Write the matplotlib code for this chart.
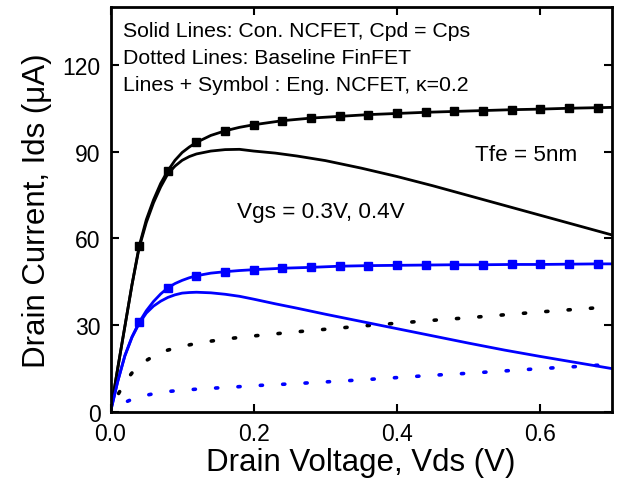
import numpy as np
import matplotlib.pyplot as plt

plt.rcParams["font.family"] = ["Liberation Sans", "DejaVu Sans"]

# Engineered NCFET (kappa = 0.2), line + square symbols
vds_eng = [0.0, 0.01, 0.02, 0.03, 0.04, 0.05, 0.06, 0.07, 0.08, 0.09, 0.10, 0.11,
           0.12, 0.14, 0.16, 0.18, 0.20, 0.24, 0.28, 0.32, 0.36, 0.40, 0.44, 0.48,
           0.52, 0.56, 0.60, 0.64, 0.68, 0.70]
ids_eng_04 = [0.0, 15.0, 29.5, 44.0, 57.3, 66.5, 73.3, 79.0, 83.4, 87.0, 89.7, 91.6,
              93.2, 95.6, 97.2, 98.4, 99.3, 100.7, 101.6, 102.2, 102.8, 103.2, 103.6, 103.9,
              104.2, 104.5, 104.7, 105.0, 105.2, 105.3]
ids_eng_03 = [0.0, 10.5, 19.5, 26.0, 31.0, 35.0, 38.2, 40.8, 42.9, 44.4, 45.5, 46.4,
              47.1, 48.0, 48.5, 48.9, 49.2, 49.7, 50.0, 50.4, 50.6, 50.7, 50.8, 50.9,
              50.9, 51.0, 51.0, 51.1, 51.2, 51.2]
# squares every 40 mV
marks = [i for i, v in enumerate(vds_eng) if i > 0 and round(v * 100) % 4 == 0]

# Conventional NCFET, Cpd = Cps (solid)
vds_con = [0.0, 0.01, 0.02, 0.03, 0.04, 0.05, 0.06, 0.07, 0.08, 0.09, 0.10, 0.11,
           0.12, 0.14, 0.16, 0.18, 0.20, 0.23, 0.26, 0.30, 0.35, 0.40, 0.45, 0.50,
           0.55, 0.60, 0.65, 0.70]
ids_con_04 = [0.0, 15.0, 29.5, 44.0, 56.8, 65.5, 72.3, 77.8, 82.3, 85.0, 87.0, 88.3,
              89.2, 90.2, 90.7, 90.8, 90.2, 89.5, 88.5, 86.9, 84.3, 81.4, 78.2, 74.8,
              71.4, 68.0, 64.6, 61.2]
ids_con_03 = [0.0, 10.5, 19.3, 25.8, 30.6, 34.2, 36.6, 38.3, 39.6, 40.5, 41.1, 41.3,
              41.4, 41.2, 40.7, 40.0, 39.0, 37.4, 35.9, 33.8, 31.3, 28.8, 26.3, 23.8,
              21.4, 19.2, 17.1, 15.0]

# Baseline FinFET (dotted)
vds_base = [0.0, 0.01, 0.02, 0.03, 0.04, 0.05, 0.06, 0.07, 0.08, 0.10, 0.12, 0.14,
            0.17, 0.20, 0.25, 0.30, 0.35, 0.40, 0.45, 0.50, 0.55, 0.60, 0.65, 0.70]
ids_base_04 = [0.0, 5.8, 10.3, 13.5, 15.8, 17.8, 19.3, 20.5, 21.4, 22.7, 23.7, 24.5,
               25.5, 26.3, 27.5, 28.6, 29.7, 30.7, 31.7, 32.6, 33.6, 34.6, 35.5, 36.4]
ids_base_03 = [0.0, 2.0, 3.3, 4.4, 5.2, 5.8, 6.3, 6.8, 7.1, 7.5, 7.9, 8.2,
               8.6, 9.1, 9.7, 10.4, 11.1, 11.9, 12.7, 13.4, 14.2, 15.0, 15.7, 16.5]

fig = plt.figure(figsize=(6.19, 4.85), dpi=100)
ax = fig.add_axes([110.5 / 619, 1 - 413 / 485, 501.5 / 619, 405 / 485])

lw = 2.0
dot = (0.6, (0.6, 5.6))
ax.plot(vds_base, ids_base_04, color="black", lw=2.6, linestyle=dot, dash_capstyle="round")
ax.plot(vds_base, ids_base_03, color="blue", lw=2.6, linestyle=dot, dash_capstyle="round")
ax.plot(vds_con, ids_con_04, color="black", lw=lw)
ax.plot(vds_con, ids_con_03, color="blue", lw=lw)
ax.plot(vds_eng, ids_eng_04, color="black", lw=lw, marker="s", ms=6.3, markevery=marks)
ax.plot(vds_eng, ids_eng_03, color="blue", lw=lw, marker="s", ms=6.3, markevery=marks)

ax.set_xlim(0, 0.7)
ax.set_ylim(0, 140)
ax.set_xticks([0.0, 0.2, 0.4, 0.6])
ax.set_yticks([0, 30, 60, 90, 120])
ax.xaxis.set_major_formatter(plt.FormatStrFormatter("%.1f"))
ax.tick_params(direction="in", length=6, width=1.5, labelsize=16.5, pad=7,
               top=True, right=True)
for s in ax.spines.values():
    s.set_linewidth(2)

ax.set_xlabel("Drain Voltage, Vds (V)", fontsize=22.5, labelpad=2)
ax.set_ylabel("Drain Current, Ids (\u03bcA)", fontsize=22.5, labelpad=8)

ax.text(0.024, 0.928, "Solid Lines: Con. NCFET, Cpd = Cps", transform=ax.transAxes,
        fontsize=15.3, va="baseline")
ax.text(0.024, 0.862, "Dotted Lines: Baseline FinFET", transform=ax.transAxes,
        fontsize=15.3, va="baseline")
ax.text(0.024, 0.796, "Lines + Symbol : Eng. NCFET, \u03ba=0.2", transform=ax.transAxes,
        fontsize=15.3, va="baseline")
ax.text(0.509, 87.2, "Tfe = 5nm", fontsize=16.2, va="baseline")
ax.text(0.177, 67.5, "Vgs = 0.3V, 0.4V", fontsize=16.2, va="baseline")

fig.savefig("out.png", dpi=100)
